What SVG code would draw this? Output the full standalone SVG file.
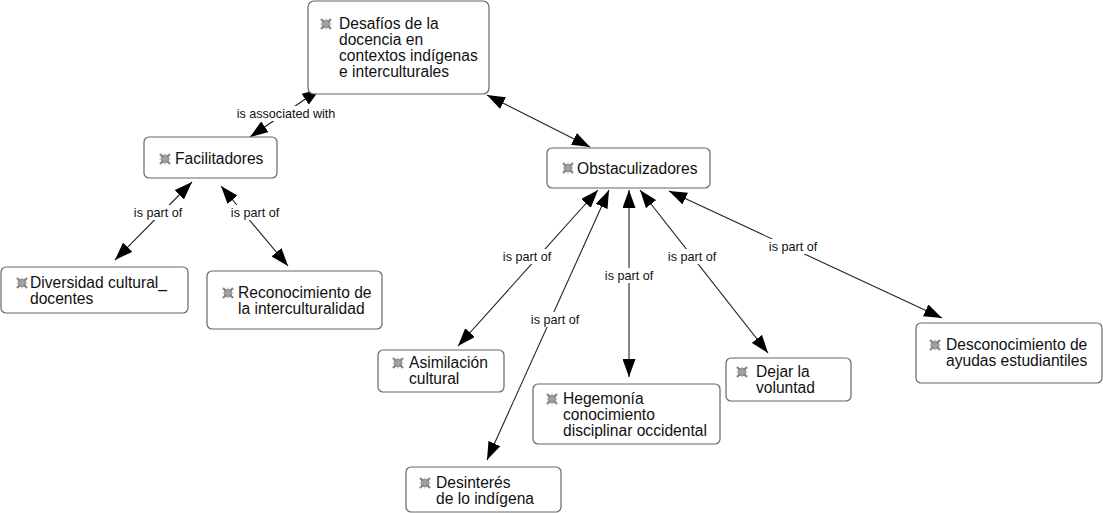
<svg xmlns="http://www.w3.org/2000/svg" width="1103" height="513" viewBox="0 0 1103 513">
<style>
.node rect{fill:#fff;stroke:#666;stroke-width:1.2}
.node text{font-family:"Liberation Sans",Arial,sans-serif;font-size:15.6px;fill:#111}
.conn path{fill:none;stroke:#222;stroke-width:1.1;marker-start:url(#ah);marker-end:url(#ah)}
.lbl rect{fill:#fff}
.lbl text{font-family:"Liberation Sans",Arial,sans-serif;font-size:12.6px;fill:#111;text-anchor:middle}
</style>
<defs>
<marker id="ah" viewBox="0 0 18 13" refX="18" refY="6.5" markerWidth="18" markerHeight="13" markerUnits="userSpaceOnUse" orient="auto-start-reverse">
<path d="M0,0 L18,6.5 L0,13 z" fill="#000"/>
</marker>
<g id="icon">
<path d="M-5,-5 L5,5 M5,-5 L-5,5" stroke="#8a8a8a" stroke-width="2.4"/>
<circle r="3.8" fill="#9a9a9a" stroke="#777" stroke-width="0.8"/>
<path d="M-5.5,0 H5.5 M0,-5.5 V5.5" stroke="#aaa" stroke-width="0.8"/>
</g>
</defs>
<rect width="1103" height="513" fill="#fff"/>
<g id="connectors" class="conn">
<path d="M250,137 L320,89"/>
<path d="M487,95 L590,147"/>
<path d="M115,260 L192,182"/>
<path d="M288,266 L221,186"/>
<path d="M458,346 L598,190"/>
<path d="M487,460 L609,190"/>
<path d="M629,377 L629,190"/>
<path d="M768,353 L640,190"/>
<path d="M942,318 L669,191"/>
</g>
<g id="labels" class="lbl">
<rect x="234" y="106" width="104" height="15"/><text x="286" y="118">is associated with</text>
<rect x="131" y="205" width="54" height="15"/><text x="158" y="217">is part of</text>
<rect x="228" y="205" width="54" height="15"/><text x="255" y="217">is part of</text>
<rect x="500" y="249" width="54" height="15"/><text x="527" y="261">is part of</text>
<rect x="528" y="312" width="54" height="15"/><text x="555" y="324">is part of</text>
<rect x="602" y="268" width="54" height="15"/><text x="629" y="280">is part of</text>
<rect x="665" y="249" width="54" height="15"/><text x="692" y="261">is part of</text>
<rect x="766" y="239" width="54" height="15"/><text x="793" y="251">is part of</text>
</g>
<g id="n-desafios" class="node">
<rect x="308" y="1" width="181" height="93" rx="6"/>
<use href="#icon" x="326" y="24"/>
<text x="339" y="29">Desafíos de la<tspan x="339" dy="16">docencia en</tspan><tspan x="339" dy="16">contextos indígenas</tspan><tspan x="339" dy="16">e interculturales</tspan></text>
</g>
<g id="n-facilitadores" class="node">
<rect x="144" y="137" width="133" height="41" rx="5"/>
<use href="#icon" x="165" y="159"/>
<text x="175" y="164">Facilitadores</text>
</g>
<g id="n-obstaculizadores" class="node">
<rect x="547" y="148" width="163" height="40" rx="5"/>
<use href="#icon" x="568" y="168"/>
<text x="577" y="174">Obstaculizadores</text>
</g>
<g id="n-diversidad" class="node">
<rect x="1" y="267" width="187" height="46" rx="5"/>
<use href="#icon" x="22" y="283"/>
<text x="30" y="288">Diversidad cultural_<tspan x="30" dy="16">docentes</tspan></text>
</g>
<g id="n-reconocimiento" class="node">
<rect x="207" y="271" width="175" height="58" rx="5"/>
<use href="#icon" x="228" y="293"/>
<text x="238" y="298">Reconocimiento de<tspan x="238" dy="16">la interculturalidad</tspan></text>
</g>
<g id="n-asimilacion" class="node">
<rect x="378" y="350" width="126" height="42" rx="5"/>
<use href="#icon" x="398" y="363"/>
<text x="409" y="368">Asimilación<tspan x="409" dy="16">cultural</tspan></text>
</g>
<g id="n-hegemonia" class="node">
<rect x="533" y="384" width="187" height="60" rx="5"/>
<use href="#icon" x="552" y="399"/>
<text x="563" y="404">Hegemonía<tspan x="563" dy="16">conocimiento</tspan><tspan x="563" dy="16">disciplinar occidental</tspan></text>
</g>
<g id="n-desinteres" class="node">
<rect x="406" y="467" width="155" height="45" rx="5"/>
<use href="#icon" x="425" y="483"/>
<text x="436" y="488">Desinterés<tspan x="436" dy="16">de lo indígena</tspan></text>
</g>
<g id="n-dejar" class="node">
<rect x="726" y="358" width="125" height="43" rx="5"/>
<use href="#icon" x="742" y="372"/>
<text x="756" y="377">Dejar la<tspan x="756" dy="16">voluntad</tspan></text>
</g>
<g id="n-desconocimiento" class="node">
<rect x="916" y="323" width="186" height="60" rx="5"/>
<use href="#icon" x="935" y="345"/>
<text x="946" y="350">Desconocimiento de<tspan x="946" dy="16">ayudas estudiantiles</tspan></text>
</g>
</svg>
